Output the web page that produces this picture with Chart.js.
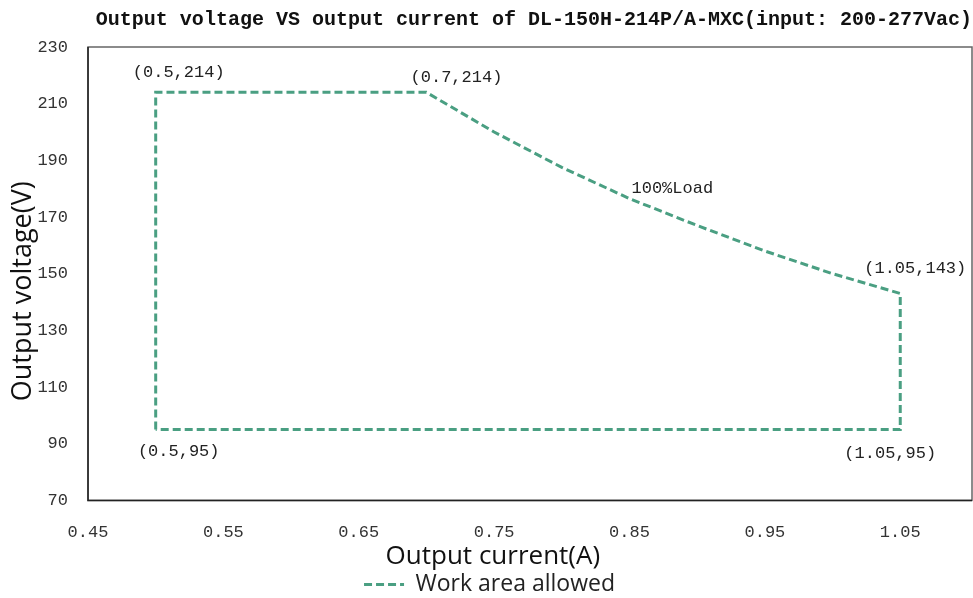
<!DOCTYPE html>
<html>
<head>
<meta charset="utf-8">
<script src="https://cdn.jsdelivr.net/npm/chart.js@4/dist/chart.umd.min.js"></script>
<style>
  html, body { margin: 0; padding: 0; background: #fff; }
  #wrap { width: 973px; height: 598px; }
</style>
</head>
<body>
<div id="wrap"><canvas id="c"></canvas></div>
<script>
// Work area outline (current A, voltage V), closed polygon
const currentA = [0.5, 0.5, 0.7, 0.75, 0.8, 0.85, 0.9, 0.95, 1.0, 1.05, 1.05, 0.5];
const voltageV = [95, 214, 214, 200, 187.5, 176.5, 167, 158, 150, 143, 95, 95];

const xTicks = [0.45, 0.55, 0.65, 0.75, 0.85, 0.95, 1.05];
const yTicks = [70, 90, 110, 130, 150, 170, 190, 210, 230];

// labels on the chart
const noteText = ['(0.5,214)', '(0.7,214)', '100%Load', '(1.05,143)', '(0.5,95)', '(1.05,95)'];
const noteX = [0.5, 0.7, 0.85, 1.05, 0.5, 1.05];
const noteY = [214, 214, 176.5, 143, 95, 95];

const lineColor = '#4a9f82';
const lineDash = [8, 4];
const monoFont = '"Liberation Mono", "DejaVu Sans Mono", monospace';
const sansFont = '"Open Sans", "Noto Sans", sans-serif';

// frame around the plot area + point labels
const extras = {
    id: 'extras',
    afterDatasetsDraw(chart) {
        const ctx = chart.ctx;
        const a = chart.chartArea;
        const xs = chart.scales.x, ys = chart.scales.y;
        ctx.save();
        ctx.strokeStyle = '#666';
        ctx.lineWidth = 1.5;
        ctx.strokeRect(a.left, a.top, a.right - a.left, a.bottom - a.top);
        ctx.strokeStyle = '#222';
        ctx.beginPath();
        ctx.moveTo(a.left, a.top);
        ctx.lineTo(a.left, a.bottom);
        ctx.lineTo(a.right, a.bottom);
        ctx.stroke();

        ctx.fillStyle = '#222';
        ctx.font = '17px ' + monoFont;
        ctx.textBaseline = 'middle';
        // offsets for each label: [dx, dy, align]
        const offs = [[23, -20, 'center'], [30, -15, 'center'], [2, -10, 'left'],
                      [15, -25, 'center'], [23, 22, 'center'], [-10, 24, 'center']];
        noteText.forEach((t, i) => {
            const px = xs.getPixelForValue(noteX[i]);
            const py = ys.getPixelForValue(noteY[i]);
            ctx.textAlign = offs[i][2];
            ctx.fillText(t, px + offs[i][0], py + offs[i][1]);
        });
        ctx.restore();
    }
};

new Chart(document.getElementById('c'), {
    type: 'scatter',
    data: {
        datasets: [{
            label: 'Work area allowed',
            data: currentA.map((x, i) => ({ x: x, y: voltageV[i] })),
            showLine: true,
            borderColor: lineColor,
            backgroundColor: lineColor,
            borderWidth: 3,
            borderDash: lineDash,
            pointRadius: 0,
            tension: 0,
            fill: false
        }]
    },
    options: {
        responsive: true,
        maintainAspectRatio: false,
        animation: false,
        layout: { padding: { top: 4, right: 1, left: 7, bottom: -8 } },
        plugins: {
            title: {
                display: true,
                text: 'Output voltage VS output current of DL-150H-214P/A-MXC(input: 200-277Vac)',
                font: { family: monoFont, size: 20, weight: 'bold' },
                color: '#111',
                padding: { top: 4, bottom: 15 },
                align: 'end'
            },
            legend: {
                position: 'bottom',
                labels: {
                    usePointStyle: true,
                    pointStyle: 'line',
                    pointStyleWidth: 40,
                    color: '#222',
                    font: { family: sansFont, size: 23 },
                    padding: 1,
                    generateLabels: chart => {
                        const items = Chart.defaults.plugins.legend.labels.generateLabels(chart);
                        items.forEach(it => { it.lineDash = lineDash; it.lineWidth = 3; it.strokeStyle = lineColor; });
                        return items;
                    }
                }
            },
            tooltip: { enabled: false }
        },
        scales: {
            x: {
                type: 'linear',
                min: 0.45,
                max: 1.103,
                afterBuildTicks: axis => { axis.ticks = xTicks.map(v => ({ value: v })); },
                grid: { display: false, drawTicks: false },
                border: { display: false },
                ticks: {
                    color: '#333',
                    font: { family: monoFont, size: 17 },
                    padding: 22,
                    maxRotation: 0,
                    callback: v => v.toFixed(2)
                },
                title: {
                    display: true,
                    // trailing spaces push the title left, as in the original
                    text: 'Output current(A)           ',
                    color: '#111',
                    font: { family: sansFont, size: 26 },
                    padding: { top: -24, bottom: 0 }
                }
            },
            y: {
                min: 70,
                max: 230,
                afterBuildTicks: axis => { axis.ticks = yTicks.map(v => ({ value: v })); },
                grid: { display: false, drawTicks: false },
                border: { display: false },
                ticks: {
                    color: '#333',
                    font: { family: monoFont, size: 17 },
                    padding: 20
                },
                title: {
                    display: true,
                    text: 'Output voltage(V)     ',
                    color: '#111',
                    font: { family: sansFont, size: 27 },
                    padding: { top: 0, bottom: -22 }
                }
            }
        }
    },
    plugins: [extras]
});
</script>
</body>
</html>
